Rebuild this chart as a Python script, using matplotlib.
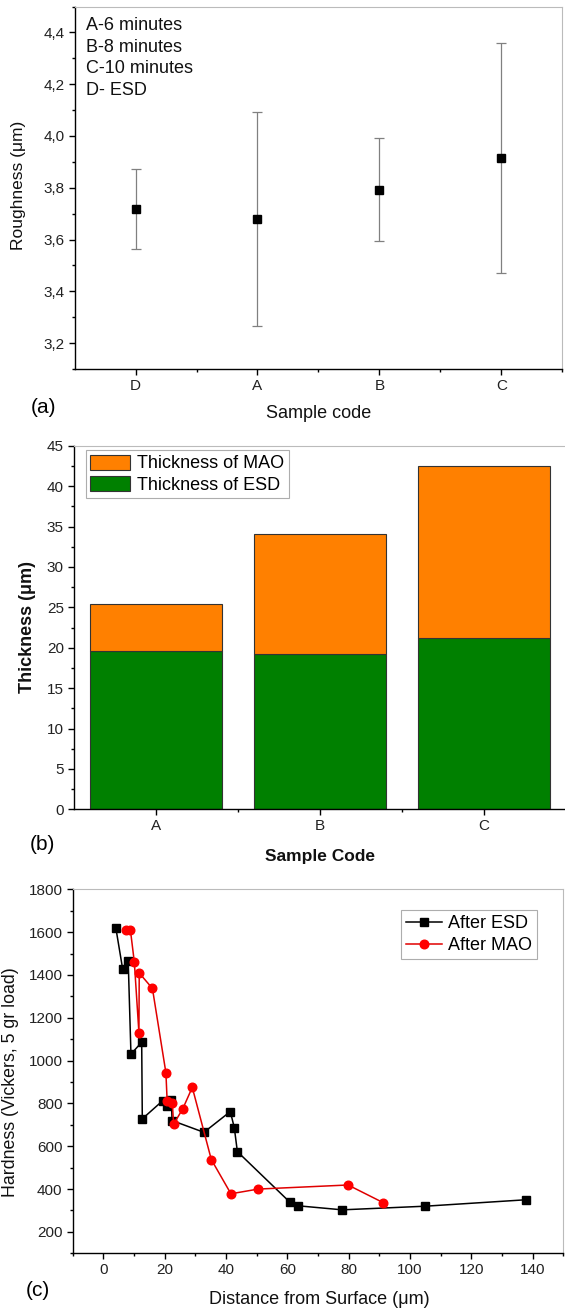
import numpy as np
import matplotlib
matplotlib.use("Agg")
import matplotlib.pyplot as plt
from matplotlib.ticker import MultipleLocator, FixedLocator, FuncFormatter

plt.rcParams['font.family'] = ['Liberation Sans', 'DejaVu Sans']

# (a) roughness
rough_codes = ['D', 'A', 'B', 'C']
rough_mean = [3.718, 3.681, 3.793, 3.914]
rough_err = [0.154, 0.413, 0.198, 0.444]
legend_lines = ['A-6 minutes', 'B-8 minutes', 'C-10 minutes', 'D- ESD']

# (b) thickness
thick_codes = ['A', 'B', 'C']
esd_thick = [19.65, 19.2, 21.18]
mao_thick = [5.78, 14.82, 21.26]

# (c) hardness
esd_dist = [4.1, 6.3, 8.1, 9.0, 12.5, 12.7, 19.3, 20.7, 22.2, 22.4, 32.8,
            41.4, 42.7, 43.7, 60.8, 63.4, 77.9, 105.0, 137.8]
esd_hv = [1617, 1427, 1466, 1030, 1086, 728, 812, 786, 815, 720, 665,
          762, 687, 575, 339, 322, 303, 320, 350]
mao_dist = [7.4, 8.8, 10.1, 11.6, 11.7, 16.0, 20.4, 20.8, 22.5, 22.9, 25.9,
            29.0, 35.2, 41.6, 50.5, 79.8, 91.2]
mao_hv = [1612, 1612, 1460, 1130, 1409, 1337, 943, 812, 800, 703, 775,
          875, 538, 378, 400, 419, 337]

W, H = 565, 1312
fig = plt.figure(figsize=(W / 100, H / 100), dpi=100)


def box(l, t, r, b):
    return [l / W, 1 - b / H, (r - l) / W, (b - t) / H]


def px(x, y):
    return x / W, 1 - y / H


def style(ax, tcol='#222222'):
    for s in ['left', 'bottom']:
        ax.spines[s].set_linewidth(1.0)
        ax.spines[s].set_color('black')
    for s in ['top', 'right']:
        ax.spines[s].set_linewidth(0.8)
        ax.spines[s].set_color('#bbbbbb')
    ax.tick_params(which='both', direction='out', top=False, right=False,
                   width=1.0, colors='black', labelcolor=tcol)
    ax.tick_params(which='major', length=4.3)
    ax.tick_params(which='minor', length=2.4)


# ---------- (a)
ax1 = fig.add_axes(box(74.6, 6.5, 562.3, 369))
xa = np.arange(1, len(rough_codes) + 1)
ax1.errorbar(xa, rough_mean, yerr=rough_err, fmt='s', color='black',
             ms=5.8, ecolor='#808080', elinewidth=0.9, capsize=3.5,
             capthick=0.9)
ax1.set_xlim(0.5, 4.5)
ax1.set_ylim(3.1, 4.5)
ax1.set_xticks(xa)
ax1.set_xticklabels(rough_codes)
ax1.xaxis.set_minor_locator(FixedLocator([1.5, 2.5, 3.5, 4.5]))
ax1.yaxis.set_major_locator(FixedLocator(np.arange(3.2, 4.41, 0.2)))
ax1.yaxis.set_minor_locator(MultipleLocator(0.1))
ax1.yaxis.set_major_formatter(FuncFormatter(lambda v, p: ('%.1f' % v).replace('.', ',')))
style(ax1)
ax1.tick_params(labelsize=11, pad=3)
ax1.text(0.024, 0.971, '\n'.join(legend_lines), transform=ax1.transAxes,
         ha='left', va='top', fontsize=13, linespacing=1.35, color='#111111')
fig.text(*px(18.7, 185), 'Roughness (μm)', rotation=90, ha='center',
         va='center', fontsize=12.5, color='#111111')
fig.text(*px(319, 414), 'Sample code', ha='center', va='center',
         fontsize=13, color='#111111')
fig.text(*px(44, 407), '(a)', ha='center', va='center', fontsize=15)

# ---------- (b)
ax2 = fig.add_axes(box(73.9, 445.7, 566, 809.3))
xb = np.arange(1, len(thick_codes) + 1)
ax2.bar(xb, esd_thick, width=0.8, color='#008000', edgecolor='#333333',
        linewidth=0.8, label='Thickness of ESD')
ax2.bar(xb, mao_thick, width=0.8, bottom=esd_thick, color='#ff8000',
        edgecolor='#333333', linewidth=0.8, label='Thickness of MAO')
ax2.set_xlim(0.5, 3.5)
ax2.set_ylim(0, 45)
ax2.set_xticks(xb)
ax2.set_xticklabels(thick_codes)
ax2.xaxis.set_minor_locator(FixedLocator([1.5, 2.5]))
ax2.yaxis.set_major_locator(MultipleLocator(5))
ax2.yaxis.set_minor_locator(MultipleLocator(2.5))
style(ax2)
ax2.spines['right'].set_visible(False)
ax2.tick_params(labelsize=11, pad=3)
h, l = ax2.get_legend_handles_labels()
lg2 = ax2.legend(h[::-1], l[::-1], loc='upper left',
                 bbox_to_anchor=(0.024, 0.988), fontsize=13, frameon=True,
                 fancybox=False, edgecolor='#999999', borderpad=0.25,
                 handlelength=2.2, handleheight=0.9, handletextpad=0.4,
                 labelspacing=0.2, borderaxespad=0)
lg2.get_frame().set_linewidth(0.8)
fig.text(*px(27, 627), 'Thickness (μm)', rotation=90, ha='center',
         va='center', fontsize=13, fontweight='bold', color='#111111')
fig.text(*px(320, 856.7), 'Sample Code', ha='center', va='center',
         fontsize=12.5, fontweight='bold', color='#111111')
fig.text(*px(42, 845), '(b)', ha='center', va='center', fontsize=15)

# ---------- (c)
ax3 = fig.add_axes(box(72.7, 889.3, 563.3, 1253.3))
ax3.plot(esd_dist, esd_hv, '-s', color='black', lw=1.1, ms=5.8,
         label='After ESD')
ax3.plot(mao_dist, mao_hv, '-o', color='#e00000', mfc='red', mec='red',
         lw=1.1, ms=6.2, label='After MAO')
ax3.set_xlim(-10, 150)
ax3.set_ylim(100, 1800)
ax3.xaxis.set_major_locator(MultipleLocator(20))
ax3.xaxis.set_minor_locator(MultipleLocator(10))
ax3.yaxis.set_major_locator(FixedLocator(np.arange(200, 1801, 200)))
ax3.yaxis.set_minor_locator(MultipleLocator(100))
style(ax3)
ax3.tick_params(labelsize=11, pad=3)
lg3 = ax3.legend(loc='upper right', bbox_to_anchor=(0.9464, 0.943),
                 fontsize=13, frameon=True, fancybox=False,
                 edgecolor='#999999', borderpad=0.3, handlelength=2.0,
                 handletextpad=0.3, labelspacing=0.25, borderaxespad=0)
lg3.get_frame().set_linewidth(0.8)
fig.text(*px(10.8, 1082), 'Hardness (Vickers, 5 gr load)', rotation=90,
         ha='center', va='center', fontsize=12.8, color='#111111')
fig.text(*px(319, 1300), 'Distance from Surface (μm)', ha='center',
         va='center', fontsize=13, color='#111111')
fig.text(*px(38, 1290), '(c)', ha='center', va='center', fontsize=15)

fig.savefig('out.png', dpi=100)
